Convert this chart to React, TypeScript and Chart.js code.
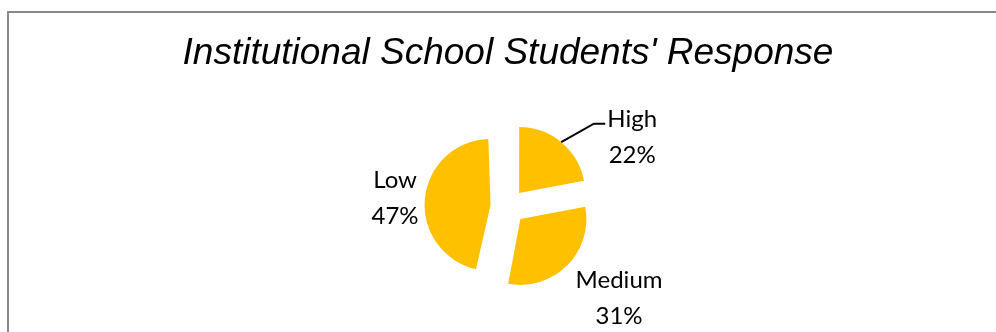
import React, { useEffect, useRef } from 'react';
import { Chart, registerables, ArcElement } from 'chart.js';

Chart.register(...registerables);

// ---- data ----
const categories: string[] = ['High', 'Medium', 'Low'];
const values: number[] = [22, 31, 47];
const chartTitle = "Institutional School Students' Response";

// ---- style ----
const SLICE_COLOR = '#FFC000';
const EXPLODE = 17.5; // px each slice is pulled out along its bisector
const PIE_RADIUS = 66;
const LABEL_FONT = '24px Lato, "Noto Sans", sans-serif';
const LINE_GAP = 36;

// Chart.js enlarges the radius of exploded slices narrower than 180deg;
// keep every exploded slice at the same radius (as in the reference).
const baseArcDraw = (ArcElement.prototype as any).draw;
(ArcElement.prototype as any).draw = function (ctx: CanvasRenderingContext2D) {
  const off = ((this.options && this.options.offset) || 0) / 4;
  const fix = 1 - Math.sin(Math.min(Math.PI, this.circumference || 0));
  const saved = this.outerRadius;
  this.outerRadius = saved - off * fix;
  baseArcDraw.call(this, ctx);
  this.outerRadius = saved;
};

// label placement relative to the exploded outer point on each slice's bisector
const labelPlacement: { dx: number; dy: number; leader?: number[][] }[] = [
  { dx: 71, dy: -15, leader: [[32.7, -18.5], [44, -18.5]] },
  { dx: 52, dy: 22.5 },
  { dx: -29.8, dy: -10.8 },
];

const framePlugin = {
  id: 'frame',
  beforeDraw(chart: any) {
    const ctx = chart.ctx as CanvasRenderingContext2D;
    ctx.save();
    ctx.fillStyle = '#ffffff';
    ctx.fillRect(0, 0, chart.width, chart.height);
    ctx.strokeStyle = '#898989';
    ctx.lineWidth = 2;
    ctx.strokeRect(8, 12, chart.width + 50, chart.height + 50);
    ctx.restore();
  },
};

const labelPlugin = {
  id: 'sliceLabels',
  afterDatasetsDraw(chart: any) {
    const ctx = chart.ctx as CanvasRenderingContext2D;
    const meta = chart.getDatasetMeta(0);
    const data = chart.data.datasets[0].data as number[];
    const total = data.reduce((a, b) => a + b, 0);
    ctx.save();
    ctx.font = LABEL_FONT;
    ctx.fillStyle = '#000000';
    ctx.textAlign = 'center';
    ctx.textBaseline = 'alphabetic';
    meta.data.forEach((arc: any, i: number) => {
      const { x, y, startAngle, endAngle, outerRadius } = arc.getProps(
        ['x', 'y', 'startAngle', 'endAngle', 'outerRadius'],
        true
      );
      const mid = (startAngle + endAngle) / 2;
      const rr = outerRadius + EXPLODE;
      const px = x + Math.cos(mid) * rr;
      const py = y + Math.sin(mid) * rr;
      const place = labelPlacement[i];
      if (place.leader) {
        ctx.beginPath();
        ctx.strokeStyle = '#000000';
        ctx.lineWidth = 2;
        ctx.moveTo(px, py);
        place.leader.forEach(([lx, ly]) => ctx.lineTo(px + lx, py + ly));
        ctx.stroke();
      }
      const pct = Math.round((data[i] / total) * 100) + '%';
      const tx = px + place.dx;
      const ty = py + place.dy;
      ctx.fillText(chart.data.labels[i], tx, ty);
      ctx.fillText(pct, tx, ty + LINE_GAP);
    });
    ctx.restore();
  },
};

export default function App() {
  const canvasRef = useRef<HTMLCanvasElement | null>(null);

  useEffect(() => {
    if (!canvasRef.current) return;
    const chart = new Chart(canvasRef.current, {
      type: 'pie',
      data: {
        labels: categories,
        datasets: [
          {
            data: values,
            backgroundColor: SLICE_COLOR,
            borderWidth: 0,
            offset: EXPLODE * 4,
            hoverOffset: 0,
          } as any,
        ],
      },
      options: {
        responsive: false,
        animation: false,
        devicePixelRatio: 1,
        events: [],
        radius: PIE_RADIUS,
        layout: { padding: { left: 20, right: 0, top: 0, bottom: 23 } },
        plugins: {
          legend: { display: false },
          tooltip: { enabled: false },
          title: {
            display: true,
            text: chartTitle,
            color: '#000000',
            font: {
              family: '"Liberation Sans", Arial, sans-serif',
              size: 37,
              style: 'italic',
              weight: 'normal',
              lineHeight: 1.2,
            },
            padding: { top: 31.7, bottom: 0 },
          },
        },
      } as any,
      plugins: [framePlugin, labelPlugin],
    });
    return () => chart.destroy();
  }, []);

  return (
    <div
      style={{
        position: 'absolute',
        left: 0,
        top: 0,
        width: 996,
        height: 332,
        overflow: 'hidden',
        background: '#fff',
      }}
    >
      <canvas ref={canvasRef} width={996} height={360} style={{ display: 'block' }} />
    </div>
  );
}
